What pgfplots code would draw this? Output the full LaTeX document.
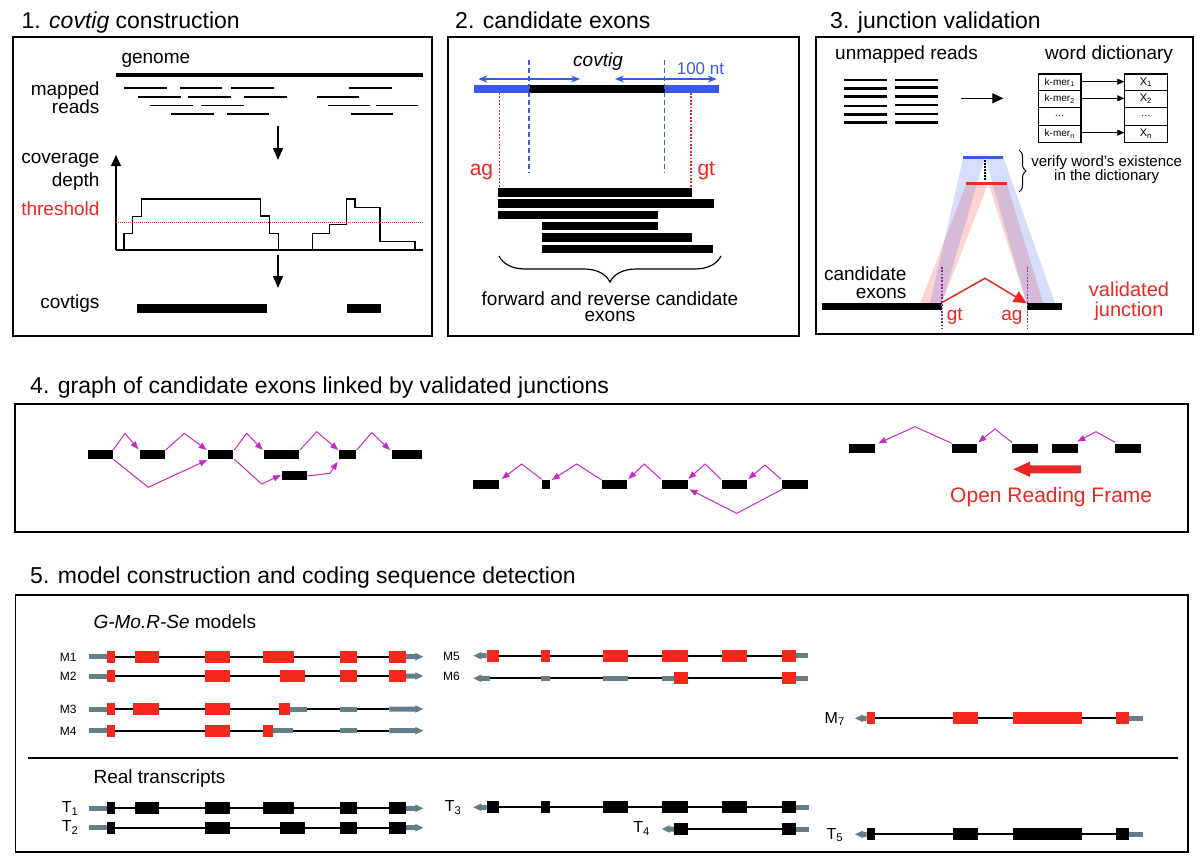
\documentclass[border=0pt]{standalone}
\usepackage{fontspec}
\setmainfont{Liberation Sans}
\usepackage{pgfplots}
\pgfplotsset{compat=1.18}
\usetikzlibrary{arrows.meta,decorations.pathreplacing}
\definecolor{exred}{RGB}{244,40,28}
\definecolor{txtred}{RGB}{232,40,35}
\definecolor{exblue}{RGB}{55,90,235}
\definecolor{utr}{RGB}{100,125,135}
\definecolor{arc}{RGB}{200,40,200}
\definecolor{purp}{RGB}{140,40,170}
\newcommand{\fs}[1]{\fontsize{#1}{#1}\selectfont}
\newcommand{\seg}[5]{\addplot[#1,line width=#2pt,forget plot] coordinates {(#3,#5)(#4,#5)};}
\newcommand{\rarr}[3]{%
 \pgfmathsetmacro\xa{#2-8}\pgfmathsetmacro\ya{#3-3.8}\pgfmathsetmacro\yb{#3+3.8}%
 \pgfmathsetmacro\yc{#3-2.5}\pgfmathsetmacro\yd{#3+2.5}%
 \edef\tmp{\noexpand\addplot[fill=utr,draw=none,forget plot] coordinates {(#1,\yc)(\xa,\yc)(\xa,\ya)(#2,#3)(\xa,\yb)(\xa,\yd)(#1,\yd)};}\tmp}
\newcommand{\larr}[3]{%
 \pgfmathsetmacro\xa{#1+8}\pgfmathsetmacro\ya{#3-3.8}\pgfmathsetmacro\yb{#3+3.8}%
 \pgfmathsetmacro\yc{#3-2.5}\pgfmathsetmacro\yd{#3+2.5}%
 \edef\tmp{\noexpand\addplot[fill=utr,draw=none,forget plot] coordinates {(#1,#3)(\xa,\ya)(\xa,\yc)(#2,\yc)(#2,\yd)(\xa,\yd)(\xa,\yb)};}\tmp}
\newcommand{\frm}[4]{\addplot[black,line width=1.5pt,line cap=rect,forget plot] coordinates {(#1,#2)(#3,#2)(#3,#4)(#1,#4)(#1,#2)};}
\tikzset{dots/.style={line width=1.6pt,dash pattern=on 1.8pt off 1.6pt}}
\begin{document}
\begin{tikzpicture}
\begin{axis}[width=1200pt,height=862pt,scale only axis,xmin=0,xmax=1200,ymin=0,ymax=862,
 y dir=reverse,hide axis,clip=false,every node/.append style={inner sep=0pt}]
\addplot[draw=none,forget plot] coordinates {(0,0)(1200,862)};
% ================= Section 1
\frm{13}{37}{432}{336}
\node[anchor=base west] at (18,28.3) {\fs{23}1. \textit{covtig} construction};
\seg{black}{4}{116}{423}{75}
\seg{black}{1.6}{124}{167}{87.7}\seg{black}{1.6}{180}{222}{87.7}\seg{black}{1.6}{231}{274}{87.7}\seg{black}{1.6}{349}{392}{87.7}
\seg{black}{1.6}{138}{181}{96.7}\seg{black}{1.6}{188}{231}{96.7}\seg{black}{1.6}{244}{287}{96.7}\seg{black}{1.6}{317}{359}{96.7}
\seg{black}{1.6}{150}{193}{105.3}\seg{black}{1.6}{201}{244}{105.3}\seg{black}{1.6}{328}{370}{105.3}\seg{black}{1.6}{376}{418}{105.3}
\seg{black}{1.6}{171}{214}{113.7}\seg{black}{1.6}{227}{269}{113.7}\seg{black}{1.6}{351}{393}{113.7}
\node[anchor=base west] at (118,63) {\fs{19}genome};
\node[anchor=base east] at (103,95) {\fs{19}mapped};
\node[anchor=base east] at (103,113.3) {\fs{19}reads};
\node[anchor=base east] at (103,163.3) {\fs{19}coverage};
\node[anchor=base east] at (103,186) {\fs{19}depth};
\node[anchor=base east] at (103,215) {\fs{19}\color{txtred}threshold};
\node[anchor=base east] at (103,308.3) {\fs{19}covtigs};
\addplot[black,line width=1.2pt,-{Triangle[length=12pt,width=10pt]}] coordinates {(278,126)(278,160)};
\addplot[black,line width=1.2pt,-{Triangle[length=12pt,width=10pt]}] coordinates {(278,255)(278,288)};
\addplot[black,line width=1.2pt] coordinates {(423,250)(116,250)};
\addplot[black,line width=1.2pt,-{Triangle[length=11pt,width=10pt]}] coordinates {(116,250)(116,155)};
\addplot[black,line width=1.2pt] coordinates {(124,250)(124,233.3)(132.7,233.3)(132.7,216.7)(141.7,216.7)(141.7,199)(260.7,199)(260.7,216)(269.3,216)(269.3,233.3)(278.3,233.3)(278.3,250)};
\addplot[black,line width=1.2pt] coordinates {(312.3,250)(312.3,233.3)(329.3,233.3)(329.3,224.3)(346.7,224.3)(346.7,199)(355,199)(355,207.3)(380,207.3)(380,241.7)(415,241.7)(415,250)};
\addplot[txtred,line width=0.9pt,dash pattern=on 1pt off 1pt] coordinates {(116,222.3)(423,222.3)};
\seg{black}{9.3}{136.7}{267.3}{308.7}
\seg{black}{9.3}{346.7}{380.7}{308.7}
% ================= Section 2
\frm{448}{37}{799}{336}
\node[anchor=base west] at (451.7,28.3) {\fs{23}2. candidate exons};
\seg{exblue}{8.3}{474.3}{719.3}{89.2}
\seg{black}{8.3}{529.3}{664.7}{89.2}
\addplot[exblue,line width=1.3pt,dash pattern=on 5pt off 3pt] coordinates {(529,60)(529,173)};
\addplot[exblue,line width=1.3pt,dash pattern=on 5pt off 3pt] coordinates {(664.7,60)(664.7,173)};
\addplot[txtred,dots] coordinates {(499.3,93)(499.3,188)};
\addplot[txtred,dots] coordinates {(691,93)(691,188)};
\addplot[exblue,line width=1.2pt,{Stealth[length=9pt,width=7pt]}-{Stealth[length=9pt,width=7pt]}] coordinates {(478.3,79)(580,79)};
\addplot[exblue,line width=1.2pt,{Stealth[length=9pt,width=7pt]}-{Stealth[length=9pt,width=7pt]}] coordinates {(615,79)(716.7,79)};
\node[anchor=base] at (598,66.7) {\fs{19}\textit{covtig}};
\node[anchor=base west] at (673.3,74) {\fs{17}\color{exblue}100 nt};
\node[anchor=base east] at (496.7,175) {\fs{21}\color{txtred}ag};
\node[anchor=base west] at (694,175) {\fs{21}\color{txtred}gt};
\seg{black}{8.3}{498.3}{692.3}{192.5}
\seg{black}{8.3}{498.3}{714}{203.5}
\seg{black}{8.3}{498.3}{658.3}{214.8}
\seg{black}{8.3}{542.3}{658.3}{225.8}
\seg{black}{8.3}{542.3}{691.7}{237.5}
\seg{black}{8.3}{542.3}{713.3}{249.2}
\addplot[black,line width=1.2pt,decorate,decoration={brace,mirror,amplitude=26pt}] coordinates {(499,256)(721,256)};
\node[anchor=base] at (610,305) {\fs{19}forward and reverse candidate};
\node[anchor=base] at (610,321.7) {\fs{19}exons};
% ================= Section 3
\frm{816}{37}{1193}{334}
\node[anchor=base west] at (826.7,28.3) {\fs{23}3. junction validation};
\node[anchor=base west] at (831.7,59.3) {\fs{19}unmapped reads};
\node[anchor=base west] at (1041.7,59.3) {\fs{19}word dictionary};
\seg{black}{2.5}{844}{887.3}{80}\seg{black}{2.5}{844}{887.3}{88.3}\seg{black}{2.5}{844}{887.3}{96.7}
\seg{black}{2.5}{844}{887.3}{106}\seg{black}{2.5}{844}{887.3}{114.3}\seg{black}{2.5}{844}{887.3}{122.7}
\seg{black}{2.5}{895}{938.3}{80}\seg{black}{2.5}{895}{938.3}{87.5}\seg{black}{2.5}{895}{938.3}{96.7}
\seg{black}{2.5}{895}{938.3}{105}\seg{black}{2.5}{895}{938.3}{114}\seg{black}{2.5}{895}{938.3}{122.7}
\addplot[black,line width=1.2pt,-{Triangle[length=11pt,width=10pt]}] coordinates {(961,98.3)(1003.3,98.3)};
\frm{1038.3}{74}{1081}{142.3}
\frm{1124.3}{74}{1167.3}{142.3}
\addplot[black,line width=1pt] coordinates {(1038.3,90.7)(1081,90.7)};
\addplot[black,line width=1pt] coordinates {(1038.3,107.3)(1081,107.3)};
\addplot[black,line width=1pt] coordinates {(1038.3,125)(1081,125)};
\addplot[black,line width=1pt] coordinates {(1124.3,90.7)(1167.3,90.7)};
\addplot[black,line width=1pt] coordinates {(1124.3,107.3)(1167.3,107.3)};
\addplot[black,line width=1pt] coordinates {(1124.3,125)(1167.3,125)};
\addplot[black,line width=0.6pt,-{Triangle[length=7pt,width=6pt]}] coordinates {(1081,81.7)(1124.3,81.7)};
\addplot[black,line width=0.6pt,-{Triangle[length=7pt,width=6pt]}] coordinates {(1081,98.3)(1124.3,98.3)};
\addplot[black,line width=0.6pt,-{Triangle[length=7pt,width=6pt]}] coordinates {(1081,132.7)(1124.3,132.7)};
\node[anchor=center] at (1059.7,82.3) {\fs{10}k-mer\textsubscript{1}};
\node[anchor=center] at (1059.7,99) {\fs{10}k-mer\textsubscript{2}};
\node[anchor=center] at (1059.7,116.2) {\fs{10}\dots};
\node[anchor=center] at (1059.7,133.7) {\fs{10}k-mer\textsubscript{n}};
\node[anchor=center] at (1145.8,82.3) {\fs{11}X\textsubscript{1}};
\node[anchor=center] at (1145.8,99) {\fs{11}X\textsubscript{2}};
\node[anchor=center] at (1145.8,116.2) {\fs{10}\dots};
\node[anchor=center] at (1145.8,133.7) {\fs{11}X\textsubscript{n}};
\addplot[fill=exred,fill opacity=0.2,draw=none] coordinates {(966.7,183.3)(988.3,183.3)(941.7,303.3)(920,303.3)};
\addplot[fill=exred,fill opacity=0.2,draw=none] coordinates {(988.3,183.3)(1006.7,183.3)(1043.3,303.3)(1026.7,303.3)};
\addplot[fill=exblue,fill opacity=0.2,draw=none] coordinates {(963.3,157.3)(985,157.3)(941.7,303.3)(930,303.3)};
\addplot[fill=exblue,fill opacity=0.2,draw=none] coordinates {(985,157.3)(1003.3,157.3)(1055,303.3)(1026.7,303.3)};
\seg{exblue}{3}{963.3}{1003.3}{157.3}
\seg{exred}{3}{966}{1006.7}{183.3}
\addplot[black,line width=1.4pt,dash pattern=on 1.5pt off 1.5pt] coordinates {(985,160)(985,181)};
\addplot[black,line width=1pt,decorate,decoration={brace,amplitude=7pt}] coordinates {(1019,150)(1019,192)};
\node[anchor=base] at (1106.7,166.7) {\fs{15}verify word's existence};
\node[anchor=base] at (1106.7,180) {\fs{15}in the dictionary};
\seg{black}{7.5}{821.7}{941.7}{306.3}
\seg{black}{7.5}{1026.7}{1061.7}{306.3}
\addplot[purp,dots] coordinates {(941.7,266.7)(941.7,328.3)};
\addplot[purp,dots] coordinates {(1027.3,266.7)(1027.3,328.3)};
\node[anchor=base east] at (910,280) {\fs{19}candidate};
\node[anchor=base east] at (910,298.3) {\fs{19}exons};
\node[anchor=base west] at (943.3,320) {\fs{19}\color{txtred}gt};
\node[anchor=base east] at (1026,320) {\fs{19}\color{txtred}ag};
\addplot[txtred,line width=1.5pt,-{Triangle[length=13pt,width=12pt]}] coordinates {(941.7,302.7)(985,278.3)(1026.7,303.3)};
\node[anchor=base] at (1129,296.7) {\fs{20}\color{txtred}validated};
\node[anchor=base] at (1129,316.7) {\fs{20}\color{txtred}junction};
% ================= Section 4
\node[anchor=base west] at (26.7,393.3) {\fs{23}4. graph of candidate exons linked by validated junctions};
\frm{15}{404}{1188}{532}
\seg{black}{9}{88.3}{113.3}{454.7}\seg{black}{9}{140}{165}{454.7}\seg{black}{9}{208.3}{233.3}{454.7}
\seg{black}{9}{264.3}{299}{454.7}\seg{black}{9}{339.3}{356}{454.7}\seg{black}{9}{392.3}{421.7}{454.7}
\seg{black}{9}{282.3}{307.3}{475.8}
\addplot[arc,line width=1pt,-{Triangle[length=8pt,width=6pt]}] coordinates {(113.3,450)(125,433.3)(138.3,449.3)};
\addplot[arc,line width=1pt,-{Triangle[length=8pt,width=6pt]}] coordinates {(165.7,450)(184.3,433.3)(206.7,450)};
\addplot[arc,line width=1pt,-{Triangle[length=8pt,width=6pt]}] coordinates {(234.3,450)(246.7,433.3)(262.7,450)};
\addplot[arc,line width=1pt,-{Triangle[length=8pt,width=6pt]}] coordinates {(300,450)(316.7,431.7)(338.3,450)};
\addplot[arc,line width=1pt,-{Triangle[length=8pt,width=6pt]}] coordinates {(356.7,450)(371.7,432.7)(390,450)};
\addplot[arc,line width=1pt,-{Triangle[length=8pt,width=6pt]}] coordinates {(113.3,459.3)(148.3,487.3)(207.3,460)};
\addplot[arc,line width=1pt,-{Triangle[length=8pt,width=6pt]}] coordinates {(234.3,459.3)(261.7,484)(281,475)};
\addplot[arc,line width=1pt,-{Triangle[length=8pt,width=6pt]}] coordinates {(307.3,476)(330,473.3)(337.7,461.7)};
\seg{black}{9}{473.3}{499.3}{484.5}\seg{black}{9}{542}{550}{484.5}\seg{black}{9}{602}{627.3}{484.5}
\seg{black}{9}{662}{687.7}{484.5}\seg{black}{9}{722}{747.3}{484.5}\seg{black}{9}{782}{807.7}{484.5}
\addplot[arc,line width=1pt,-{Triangle[length=8pt,width=6pt]}] coordinates {(541.7,479.3)(521.7,464)(501.7,479)};
\addplot[arc,line width=1pt,-{Triangle[length=8pt,width=6pt]}] coordinates {(601.7,480)(576.7,464)(551.7,480)};
\addplot[arc,line width=1pt,-{Triangle[length=8pt,width=6pt]}] coordinates {(661,479.3)(644.3,464)(628.3,479)};
\addplot[arc,line width=1pt,-{Triangle[length=8pt,width=6pt]}] coordinates {(721,479.3)(705,464)(688.3,479)};
\addplot[arc,line width=1pt,-{Triangle[length=8pt,width=6pt]}] coordinates {(781,479.3)(765,465)(748.3,479)};
\addplot[arc,line width=1pt,-{Triangle[length=8pt,width=6pt]}] coordinates {(782.3,489.3)(736.7,513.3)(689.3,489.3)};
\seg{black}{9}{849.3}{875}{448.8}\seg{black}{9}{951.7}{977.3}{448.8}\seg{black}{9}{1012.3}{1037.7}{448.8}
\seg{black}{9}{1052.3}{1077.7}{448.8}\seg{black}{9}{1115}{1140.7}{448.8}
\addplot[arc,line width=1pt,-{Triangle[length=8pt,width=6pt]}] coordinates {(951.7,443.3)(915,426.7)(878.3,443.3)};
\addplot[arc,line width=1pt,-{Triangle[length=8pt,width=6pt]}] coordinates {(1012.3,442.7)(995,429)(978.3,442.3)};
\addplot[arc,line width=1pt,-{Triangle[length=8pt,width=6pt]}] coordinates {(1115,442.3)(1096,431.7)(1077.3,441.7)};
\addplot[fill=txtred,draw=none] coordinates {(1081,465.3)(1030,465.3)(1030,461.6)(1013.3,469.3)(1030,477)(1030,473.3)(1081,473.3)};
\node[anchor=base west] at (946.7,502.7) {\fs{21}\color{txtred}Open Reading Frame};
% ================= Section 5
\node[anchor=base west] at (26.7,583.3) {\fs{23}5. model construction and coding sequence detection};
\frm{15.7}{595}{1188}{852}
\addplot[black,line width=1.2pt] coordinates {(28,758)(1178,758)};
\node[anchor=base west] at (90,628.3) {\fs{19}\textit{G-Mo.R-Se} models};
\node[anchor=base west] at (90,783.3) {\fs{19}Real transcripts};
% M1
\seg{black}{2}{106.7}{405.7}{656.7}\seg{utr}{5}{89.3}{106.7}{656.7}\rarr{405.7}{423.3}{656.7}
\seg{exred}{12}{106.7}{115}{656.7}\seg{exred}{12}{135}{159.3}{656.7}\seg{exred}{12}{205}{230}{656.7}
\seg{exred}{12}{262.7}{294}{656.7}\seg{exred}{12}{340}{356.7}{656.7}\seg{exred}{12}{389.3}{405.7}{656.7}
% M2
\seg{black}{2}{106.7}{405.7}{676}\seg{utr}{5}{89.3}{106.7}{676}\rarr{405.7}{423.3}{676}
\seg{exred}{12}{106.7}{115}{676}\seg{exred}{12}{205}{230}{676}\seg{exred}{12}{280}{305}{676}
\seg{exred}{12}{340}{356.7}{676}\seg{exred}{12}{389.3}{405.7}{676}
% M3
\seg{black}{2}{106.7}{389.3}{709}\seg{utr}{5}{89.3}{106.7}{709}\rarr{389.3}{423.3}{709}
\seg{exred}{12}{106.7}{115}{709}\seg{exred}{12}{133.3}{159}{709}\seg{exred}{12}{205}{230}{709}
\seg{exred}{12}{279.3}{290}{709}\seg{utr}{5}{290}{306.7}{709}\seg{utr}{5}{340}{356.7}{709}
% M4
\seg{black}{2}{106.7}{389.3}{730.7}\seg{utr}{5}{89.3}{106.7}{730.7}\rarr{389.3}{423.3}{730.7}
\seg{exred}{12}{106.7}{115}{730.7}\seg{exred}{12}{205}{230}{730.7}
\seg{exred}{12}{262.7}{273.3}{730.7}\seg{utr}{5}{273.3}{293.3}{730.7}\seg{utr}{5}{340}{356.7}{730.7}
\node[anchor=base east] at (80,661) {\fs{12}M1};
\node[anchor=base east] at (80,680.3) {\fs{12}M2};
\node[anchor=base east] at (80,713.3) {\fs{12}M3};
\node[anchor=base east] at (80,735) {\fs{12}M4};
% T1
\seg{black}{2}{106.7}{405.7}{808.3}\seg{utr}{5}{89.3}{106.7}{808.3}\rarr{405.7}{423.3}{808.3}
\seg{black}{12}{106.7}{115}{808.3}\seg{black}{12}{135}{159.3}{808.3}\seg{black}{12}{205}{230}{808.3}
\seg{black}{12}{262.7}{294}{808.3}\seg{black}{12}{340}{356.7}{808.3}\seg{black}{12}{389.3}{405.7}{808.3}
% T2
\seg{black}{2}{106.7}{405.7}{827.7}\seg{utr}{5}{89.3}{106.7}{827.7}\rarr{405.7}{423.3}{827.7}
\seg{black}{12}{106.7}{115}{827.7}\seg{black}{12}{205}{230}{827.7}\seg{black}{12}{280}{305}{827.7}
\seg{black}{12}{340}{356.7}{827.7}\seg{black}{12}{389.3}{405.7}{827.7}
\node[anchor=base east] at (82,812.7) {\fs{16}T\textsubscript{1}};
\node[anchor=base east] at (82,831.7) {\fs{16}T\textsubscript{2}};
% M5
\seg{black}{2}{486.7}{795.7}{655.7}\larr{473.3}{486.7}{655.7}\seg{utr}{5}{795.7}{808.3}{655.7}
\seg{exred}{12}{486.7}{499}{655.7}\seg{exred}{12}{540.7}{550}{655.7}\seg{exred}{12}{602.7}{628.3}{655.7}
\seg{exred}{12}{661.7}{687.7}{655.7}\seg{exred}{12}{721.7}{747.3}{655.7}\seg{exred}{12}{781.7}{795.7}{655.7}
% M6
\seg{black}{2}{490}{795.7}{678.3}\larr{473.3}{490}{678.3}\seg{utr}{5}{795.7}{808.3}{678.3}
\seg{utr}{5}{540.7}{550}{678.3}\seg{utr}{5}{602.7}{628.3}{678.3}\seg{utr}{5}{661.7}{674.3}{678.3}
\seg{exred}{12}{674.3}{687.7}{678.3}\seg{exred}{12}{781.7}{795.7}{678.3}
\node[anchor=base east] at (463.3,660.7) {\fs{12}M5};
\node[anchor=base east] at (463.3,680.7) {\fs{12}M6};
% T3
\seg{black}{2}{486.7}{795.7}{807.3}\larr{473.3}{486.7}{807.3}\seg{utr}{5}{795.7}{809}{807.3}
\seg{black}{12}{486.7}{499}{807.3}\seg{black}{12}{540.7}{550}{807.3}\seg{black}{12}{602.7}{628.3}{807.3}
\seg{black}{12}{661.7}{687.7}{807.3}\seg{black}{12}{721.7}{747.3}{807.3}\seg{black}{12}{781.7}{795.7}{807.3}
% T4
\seg{black}{2}{674.3}{781.7}{829}\larr{661.7}{674.3}{829}\seg{utr}{5}{795.7}{809}{829}
\seg{black}{12}{674.3}{687.7}{829}\seg{black}{12}{781.7}{795.7}{829}
\node[anchor=base east] at (465,811.7) {\fs{16}T\textsubscript{3}};
\node[anchor=base east] at (653.3,832.7) {\fs{16}T\textsubscript{4}};
% M7
\seg{black}{2}{866.7}{1129}{718.3}\larr{855}{866.7}{718.3}\seg{utr}{5}{1129}{1142.7}{718.3}
\seg{exred}{12}{866.7}{875}{718.3}\seg{exred}{12}{952.7}{978.3}{718.3}\seg{exred}{12}{1012.7}{1081.7}{718.3}\seg{exred}{12}{1116}{1129}{718.3}
\node[anchor=base east] at (848.3,723.3) {\fs{16}M\textsubscript{7}};
% T5
\seg{black}{2}{866.7}{1129}{834.3}\larr{855}{866.7}{834.3}\seg{utr}{5}{1129}{1142.7}{834.3}
\seg{black}{12}{866.7}{875}{834.3}\seg{black}{12}{952.7}{978.3}{834.3}\seg{black}{12}{1012.7}{1081.7}{834.3}\seg{black}{12}{1116}{1129}{834.3}
\node[anchor=base east] at (846.7,839.3) {\fs{16}T\textsubscript{5}};
\end{axis}
\end{tikzpicture}
\end{document}
